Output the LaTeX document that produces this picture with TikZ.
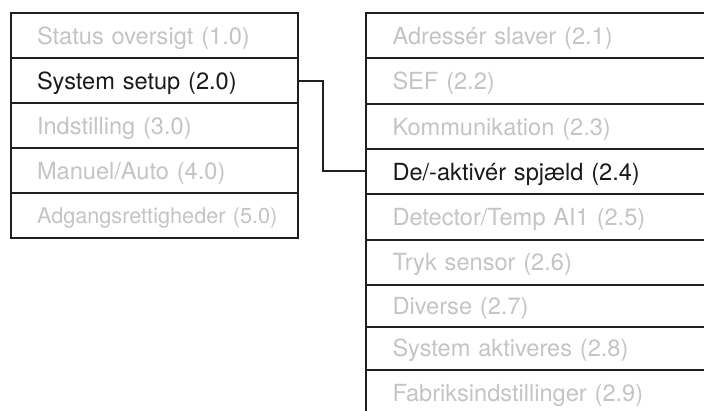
\documentclass[tikz,border=0pt]{standalone}
\usepackage{fontspec}
\setmainfont{TeX Gyre Heros}
\definecolor{linecol}{RGB}{35,31,32}
\definecolor{dimtext}{RGB}{196,196,198}
\definecolor{activetext}{RGB}{26,26,26}
\tikzset{
  menurow/.style={draw=linecol, line width=2pt, anchor=north west,
    inner xsep=26.5pt, inner ysep=0pt, text height=17pt, text depth=0pt,
    align=left, font=\fontsize{23.6}{28}\selectfont, text=dimtext},
  leftrow/.style={menurow, minimum width=287pt, text width=234pt, minimum height=45pt},
  rightrow/.style={menurow, minimum width=360pt, text width=307pt},
  active/.style={text=activetext},
  smalltext/.style={font=\fontsize{21.7}{26}\selectfont, text height=15.6pt},
  link/.style={draw=linecol, line width=2pt}
}
\begin{document}
\begin{tikzpicture}[x=1pt,y=-1pt]
\useasboundingbox (0,0) rectangle (704,411);
% left menu
\node[leftrow] (l1) at (9.5,12.3) {Status oversigt (1.0)};
\node[leftrow,active] (l2) at (9.5,57.3) {System setup (2.0)};
\node[leftrow] (l3) at (9.5,102.3) {Indstilling (3.0)};
\node[leftrow] (l4) at (9.5,147.3) {Manuel/Auto (4.0)};
\node[leftrow,smalltext] (l5) at (9.5,192.3) {\mbox{Adgangsrettigheder (5.0)}};
% right menu
\node[rightrow, minimum height=45pt] (r1) at (365,12.3) {Adressér slaver (2.1)};
\node[rightrow, minimum height=45.7pt] (r2) at (365,57.3) {SEF (2.2)};
\node[rightrow, minimum height=45.3pt] (r3) at (365,103) {Kommunikation (2.3)};
\node[rightrow, minimum height=45.2pt, active] (r4) at (365,148.3) {De/-aktivér spjæld (2.4)};
\node[rightrow, minimum height=45.5pt] (r5) at (365,193.5) {Detector/Temp AI1 (2.5)};
\node[rightrow, minimum height=45pt] (r6) at (365,239) {Tryk sensor (2.6)};
\node[rightrow, minimum height=41.7pt] (r7) at (365,284) {Diverse (2.7)};
\node[rightrow, minimum height=43.3pt] (r8) at (365,325.7) {System aktiveres (2.8)};
\node[rightrow, minimum height=45pt] (r9) at (365,369) {Fabriksindstillinger (2.9)};
% connector
\draw[link] (l2.east) -- ++(24.5,0) coordinate (bend) |- ([yshift=1.2pt]r4.west);
\end{tikzpicture}
\end{document}
